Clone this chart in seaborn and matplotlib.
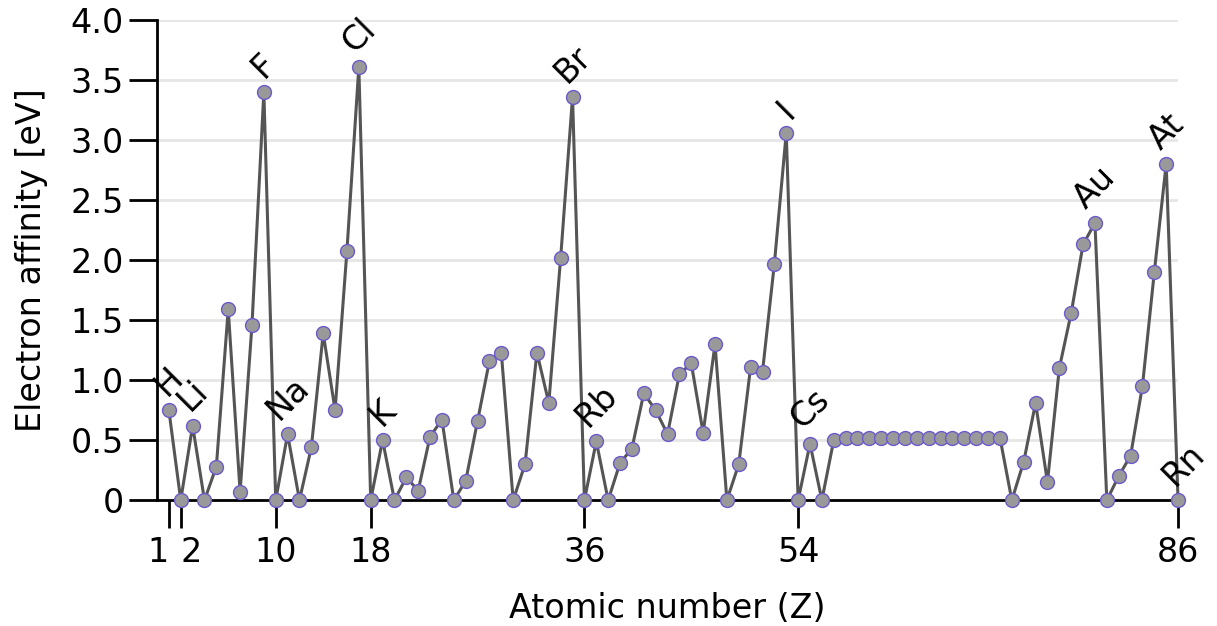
import numpy as np
import pandas as pd
import seaborn as sns
import matplotlib.pyplot as plt

# Atomic numbers 1..86 and electron affinities
z = list(range(1, 87))
ea = [0.75, 0.0, 0.62, 0.0, 0.28, 1.59, 0.07, 1.46, 3.40, 0.0,
      0.55, 0.0, 0.44, 1.39, 0.75, 2.08, 3.61, 0.0, 0.50, 0.0,
      0.19, 0.08, 0.53, 0.67, 0.0, 0.16, 0.66, 1.16, 1.23, 0.0,
      0.30, 1.23, 0.81, 2.02, 3.36, 0.0, 0.49, 0.0, 0.31, 0.43,
      0.89, 0.75, 0.55, 1.05, 1.14, 0.56, 1.30, 0.0, 0.30, 1.11,
      1.07, 1.97, 3.06, 0.0, 0.47, 0.0, 0.50, 0.52, 0.52, 0.52,
      0.52, 0.52, 0.52, 0.52, 0.52, 0.52, 0.52, 0.52, 0.52, 0.52,
      0.52, 0.0, 0.32, 0.81, 0.15, 1.10, 1.56, 2.13, 2.31, 0.0,
      0.20, 0.37, 0.95, 1.90, 2.80, 0.0]

labelled = {1: "H", 3: "Li", 9: "F", 11: "Na", 17: "Cl", 19: "K", 35: "Br",
            37: "Rb", 53: "I", 55: "Cs", 79: "Au", 85: "At", 86: "Rn"}
xticks = [1, 2, 10, 18, 36, 54, 86]
yticks = [0, 0.5, 1.0, 1.5, 2.0, 2.5, 3.0, 3.5, 4.0]
ytick_labels = ["0", "0.5", "1.0", "1.5", "2.0", "2.5", "3.0", "3.5", "4.0"]

df = pd.DataFrame({"Z": z, "EA": ea})

sns.set_style("white")
plt.rcParams["font.family"] = ["DejaVu Sans"]
plt.rcParams["text.color"] = "black"
plt.rcParams["axes.labelcolor"] = "black"
plt.rcParams["xtick.color"] = "black"
plt.rcParams["ytick.color"] = "black"
fs = 24

fig = plt.figure(figsize=(12.17, 6.26), dpi=100)
ax = fig.add_axes([0.129, 0.201, 0.839, 0.767])

for y in yticks[1:]:
    ax.axhline(y, color="#e6e6e6", lw=2, zorder=0)

sns.lineplot(data=df, x="Z", y="EA", ax=ax, color="#555555", lw=2.2,
             marker="o", markersize=10, markerfacecolor="#999999",
             markeredgecolor="#6a5acd", markeredgewidth=1.0, clip_on=False,
             zorder=3)

for zz, sym in labelled.items():
    dx = 4 if sym == "Rn" else 0
    ax.annotate(sym, (zz, ea[zz - 1]), xytext=(dx, 6), textcoords="offset points",
                rotation=45, ha="center", va="bottom", fontsize=fs)

ax.set_xlim(0, 86)
ax.set_ylim(0, 4)
ax.set_xticks(xticks)
ax.set_xticklabels([str(t) for t in xticks])
ax.set_yticks(yticks)
ax.set_yticklabels(ytick_labels)
ax.tick_params(axis="both", direction="out", length=20, width=2,
               labelsize=fs, bottom=True, left=True)
ax.tick_params(axis="x", pad=6)
ax.tick_params(axis="y", pad=4)
xl = ax.get_xticklabels()
xl[0].set_ha("right")
xl[1].set_ha("left")
for s in ["top", "right"]:
    ax.spines[s].set_visible(False)
for s in ["left", "bottom"]:
    ax.spines[s].set_linewidth(2)
    ax.spines[s].set_color("black")
ax.set_xlabel("Atomic number (Z)", fontsize=fs, labelpad=16)
ax.set_ylabel("Electron affinity [eV]", fontsize=fs, labelpad=16)

fig.savefig("out.png", dpi=100)
